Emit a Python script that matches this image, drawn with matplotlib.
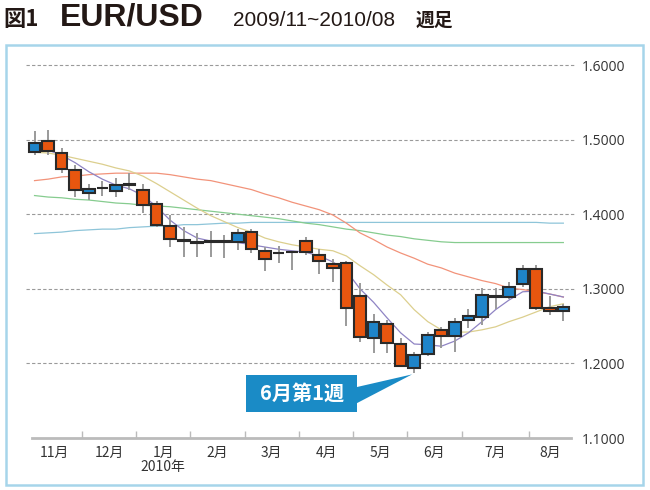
import matplotlib
matplotlib.use('Agg')
import matplotlib.pyplot as plt
from matplotlib.patches import Rectangle, Polygon

# weekly EUR/USD candles, 2009/11 - 2010/08
opens = [1.4834, 1.4981, 1.4820, 1.4590, 1.4285, 1.4350, 1.4312, 1.4398, 1.4325, 1.4137,
         1.3843, 1.3650, 1.3625, 1.3628, 1.3630, 1.3628, 1.3762, 1.3507, 1.3480, 1.3490,
         1.3642, 1.3454, 1.3333, 1.3347, 1.2905, 1.2341, 1.2529, 1.2261, 1.1940, 1.2127,
         1.2449, 1.2369, 1.2583, 1.2623, 1.2891, 1.2891, 1.3065, 1.3266, 1.2743, 1.2703]
highs = [1.5116, 1.5130, 1.4890, 1.4660, 1.4410, 1.4446, 1.4490, 1.4553, 1.4405, 1.4180,
         1.3990, 1.3830, 1.3750, 1.3776, 1.3722, 1.3802, 1.3802, 1.3560, 1.3570, 1.3510,
         1.3695, 1.3535, 1.3400, 1.3374, 1.3078, 1.2663, 1.2583, 1.2342, 1.2154, 1.2422,
         1.2489, 1.2610, 1.2730, 1.3010, 1.3010, 1.3092, 1.3320, 1.3320, 1.2905, 1.2797]
lows = [1.4794, 1.4790, 1.4550, 1.4230, 1.4190, 1.4245, 1.4230, 1.4325, 1.4017, 1.3830,
        1.3560, 1.3430, 1.3430, 1.3430, 1.3415, 1.3520, 1.3480, 1.3240, 1.3347, 1.3250,
        1.3454, 1.3200, 1.3090, 1.2500, 1.2288, 1.2141, 1.2141, 1.1953, 1.1873, 1.2101,
        1.2208, 1.2154, 1.2476, 1.2516, 1.2730, 1.2864, 1.3025, 1.2717, 1.2650, 1.2569]
closes = [1.4954, 1.4847, 1.4606, 1.4325, 1.4340, 1.4350, 1.4392, 1.4405, 1.4124, 1.3856,
          1.3668, 1.3642, 1.3615, 1.3635, 1.3630, 1.3749, 1.3534, 1.3400, 1.3485, 1.3490,
          1.3494, 1.3374, 1.3280, 1.2744, 1.2355, 1.2556, 1.2275, 1.1966, 1.2114, 1.2382,
          1.2369, 1.2556, 1.2636, 1.2918, 1.2891, 1.3025, 1.3266, 1.2743, 1.2703, 1.2756]

# moving averages
ma_purple = [1.486, 1.486, 1.479, 1.469, 1.457, 1.447, 1.439, 1.434, 1.425, 1.410,
             1.392, 1.378, 1.368, 1.364, 1.363, 1.362, 1.359, 1.356, 1.353, 1.351,
             1.349, 1.344, 1.336, 1.324, 1.300, 1.282, 1.261, 1.241, 1.226, 1.225,
             1.223, 1.230, 1.241, 1.256, 1.272, 1.285, 1.296, 1.297, 1.293, 1.289]
ma_yellow = [1.483, 1.482, 1.479, 1.475, 1.471, 1.467, 1.462, 1.458, 1.451, 1.441,
             1.430, 1.419, 1.408, 1.398, 1.390, 1.382, 1.376, 1.368, 1.363, 1.359,
             1.356, 1.353, 1.351, 1.344, 1.331, 1.319, 1.305, 1.292, 1.272, 1.256,
             1.245, 1.242, 1.242, 1.245, 1.249, 1.256, 1.262, 1.269, 1.276, 1.280]
ma_salmon = [1.445, 1.447, 1.450, 1.451, 1.453, 1.454, 1.455, 1.455, 1.455, 1.455,
             1.453, 1.450, 1.447, 1.445, 1.441, 1.437, 1.433, 1.427, 1.422, 1.416,
             1.411, 1.406, 1.399, 1.388, 1.375, 1.366, 1.356, 1.348, 1.341, 1.333,
             1.328, 1.321, 1.316, 1.311, 1.307, 1.301, 1.299, 1.296, 1.293, 1.289]
ma_green = [1.425, 1.423, 1.422, 1.420, 1.419, 1.417, 1.415, 1.414, 1.412, 1.411,
            1.410, 1.408, 1.406, 1.404, 1.402, 1.400, 1.398, 1.396, 1.394, 1.391,
            1.388, 1.386, 1.383, 1.380, 1.378, 1.375, 1.372, 1.370, 1.367, 1.365,
            1.363, 1.362, 1.362, 1.362, 1.362, 1.362, 1.362, 1.362, 1.362, 1.362]
ma_lightblue = [1.374, 1.375, 1.376, 1.378, 1.379, 1.380, 1.380, 1.382, 1.383, 1.384,
                1.384, 1.386, 1.386, 1.387, 1.388, 1.388, 1.389, 1.389, 1.389, 1.389,
                1.389, 1.389, 1.389, 1.389, 1.389, 1.389, 1.389, 1.389, 1.389, 1.389,
                1.389, 1.389, 1.389, 1.389, 1.389, 1.389, 1.389, 1.389, 1.388, 1.388]

months = ['11月', '12月', '1月\n2010年', '2月', '3月', '4月', '5月', '6月', '7月', '8月']
weeks_per_month = [4, 4, 4, 4, 4, 4, 4, 4, 5, 3]
price_ticks = [1.1, 1.2, 1.3, 1.4, 1.5, 1.6]

callout_text = '6月第1週'
callout_week = 28


def main():
    fig = plt.figure(figsize=(6.5, 4.9), dpi=100)
    ax = fig.add_axes([26 / 650, 1 - 438 / 490, 549 / 650, 373 / 490])

    n = len(opens)
    ax.set_xlim(-0.63, n - 1 + 0.86)
    ax.set_ylim(price_ticks[0], price_ticks[-1])

    # dashed grid
    for p in price_ticks[1:]:
        ax.axhline(p, color='#9a9a9a', lw=0.8, ls=(0, (3, 2)), zorder=1, clip_on=False)

    x = list(range(n))
    ax.plot(x, ma_lightblue, color='#8ec5d9', lw=0.9, zorder=2)
    ax.plot(x, ma_green, color='#86cc8f', lw=0.9, zorder=2)
    ax.plot(x, ma_salmon, color='#f2937a', lw=0.9, zorder=2)
    ax.plot(x, ma_yellow, color='#dccf8e', lw=0.9, zorder=2)
    ax.plot(x, ma_purple, color='#8f84c4', lw=0.9, zorder=2)

    w = 0.86
    for i in range(n):
        o, h, l, c = opens[i], highs[i], lows[i], closes[i]
        ax.vlines(i, l, h, color='#9a9a9a', lw=1.4, zorder=3)
        col = '#1e84c9' if c > o else '#e8560f'
        b = min(o, c)
        ht = max(abs(c - o), 0.0006)
        ax.add_patch(Rectangle((i - w / 2, b), w, ht, facecolor=col,
                               edgecolor='#2a2a2a', lw=1.5, zorder=4))

    # x axis
    bounds = []
    centers = []
    s = 0
    for k in weeks_per_month:
        centers.append(s + (k - 1) / 2)
        s += k
        bounds.append(s - 0.5)
    ax.set_xticks(centers, labels=months)
    ax.set_xticks(bounds[:-1], minor=True)
    ax.tick_params(axis='x', which='major', length=0, pad=6, labelsize=10,
                   labelcolor='#333333')
    ax.tick_params(axis='x', which='minor', direction='in', length=5, width=1,
                   color='#bbbbbb')
    for lab in ax.get_xticklabels():
        lab.set_family(['Noto Sans CJK JP', 'DejaVu Sans'])
        lab.set_linespacing(1.0)

    # y axis on right
    ax.yaxis.tick_right()
    ax.set_yticks(price_ticks, labels=[f'{p:.4f}' for p in price_ticks])
    ax.tick_params(axis='y', length=0, pad=5, labelsize=10, labelcolor='#333333')
    for lab in ax.get_yticklabels():
        lab.set_family('Open Sans')

    for sp in ['top', 'left', 'right']:
        ax.spines[sp].set_visible(False)
    ax.spines['bottom'].set_color('#bbbbbb')
    ax.spines['bottom'].set_linewidth(2)
    ax.spines['bottom'].set_bounds(-0.2, n - 1 + 0.55)

    # callout
    tx = callout_week - 0.15
    ty = lows[callout_week]
    bx0, bx1 = 15.6, 23.8
    by0, by1 = 1.135, 1.1845
    ax.add_patch(Rectangle((bx0, by0), bx1 - bx0, by1 - by0, facecolor='#1a8bc6',
                           edgecolor='none', zorder=6, clip_on=False))
    ax.add_patch(Polygon([(bx1 - 0.1, 1.168), (tx, ty - 0.002), (bx1 - 0.1, 1.146)],
                         closed=True, facecolor='#1a8bc6', edgecolor='none',
                         zorder=6, clip_on=False))
    ax.text((bx0 + bx1) / 2, (by0 + by1) / 2, callout_text, color='white',
            fontsize=14.5, fontweight='bold', ha='center', va='center',
            family=['Noto Sans CJK JP', 'DejaVu Sans'], zorder=7)

    # title
    yb = 1 - 26 / 490
    fig.text(3 / 650, yb, '図1', fontsize=16, fontweight='bold', color='#231815',
             family=['Noto Sans CJK JP', 'DejaVu Sans'], va='baseline')
    fig.text(60 / 650, yb, 'EUR/USD', fontsize=23, fontweight='bold', color='#231815',
             family='Liberation Sans', va='baseline')
    fig.text(233 / 650, yb, '2009/11~2010/08', fontsize=15, color='#231815',
             family='Liberation Sans', va='baseline')
    fig.text(416 / 650, yb, '週足', fontsize=13.5, fontweight='bold', color='#231815',
             family=['Noto Sans CJK JP', 'DejaVu Sans'], va='baseline')

    # light blue frame
    fig.add_artist(Rectangle((6 / 650, 5 / 490), 637 / 650, 440 / 490,
                             transform=fig.transFigure, facecolor='none',
                             edgecolor='#a6d5ea', lw=1.8))

    fig.savefig('out.png', dpi=100)


if __name__ == '__main__':
    main()
